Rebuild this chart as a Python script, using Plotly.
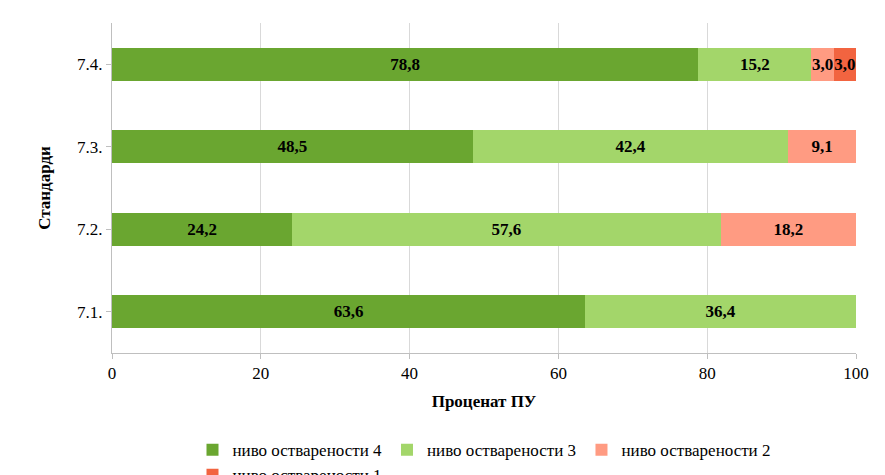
import plotly.graph_objects as go

categories = ["7.1.", "7.2.", "7.3.", "7.4."]
level4 = [63.6, 24.2, 48.5, 78.8]
level3 = [36.4, 57.6, 42.4, 15.2]
level2 = [0, 18.2, 9.1, 3.0]
level1 = [0, 0, 0, 3.0]

series = [
    ("ниво остварености 4", level4, "#6aa630"),
    ("ниво остварености 3", level3, "#a3d66a"),
    ("ниво остварености 2", level2, "#ff9b82"),
    ("ниво остварености 1", level1, "#f26440"),
]

fig = go.Figure()
for name, vals, color in series:
    fig.add_trace(go.Bar(
        y=categories, x=vals, name=name, orientation="h",
        marker=dict(color=color, line=dict(width=0)),
        text=[f"{v:.1f}".replace(".", ",") if v > 0 else "" for v in vals],
        textposition="inside", insidetextanchor="middle", textangle=0,
        constraintext="none", cliponaxis=False,
        textfont=dict(family="Liberation Serif", size=17, color="black", weight="bold"),
        width=0.4,
    ))

fig.update_layout(
    barmode="stack",
    width=885, height=475,
    paper_bgcolor="white", plot_bgcolor="white",
    font=dict(family="Liberation Serif", size=17, color="black"),
    margin=dict(l=104, r=37, t=15, b=130, autoexpand=False),
    uniformtext=dict(minsize=10, mode="show"),
    xaxis=dict(range=[0, 100], dtick=20, showgrid=True, gridcolor="#d9d9d9",
               zeroline=False, showline=True, linecolor="#bfbfbf", ticks="outside",
               ticklen=5, tickcolor="#bfbfbf", automargin=False,
               title=dict(text="<b>Проценат ПУ</b>", font=dict(size=17), standoff=12)),
    yaxis=dict(showline=True, linecolor="#bfbfbf", showgrid=False, automargin=False,
               ticks="outside", tickcolor="#bfbfbf", ticklen=5,
               title=dict(text="<b>Стандарди</b>", font=dict(size=17), standoff=22)),
    legend=dict(orientation="h", x=0.5, xanchor="center", y=-0.24, yanchor="top",
                font=dict(size=17), traceorder="normal", itemwidth=30,
                tracegroupgap=0),
    bargap=0.6,
)

fig.write_html("out.html")
